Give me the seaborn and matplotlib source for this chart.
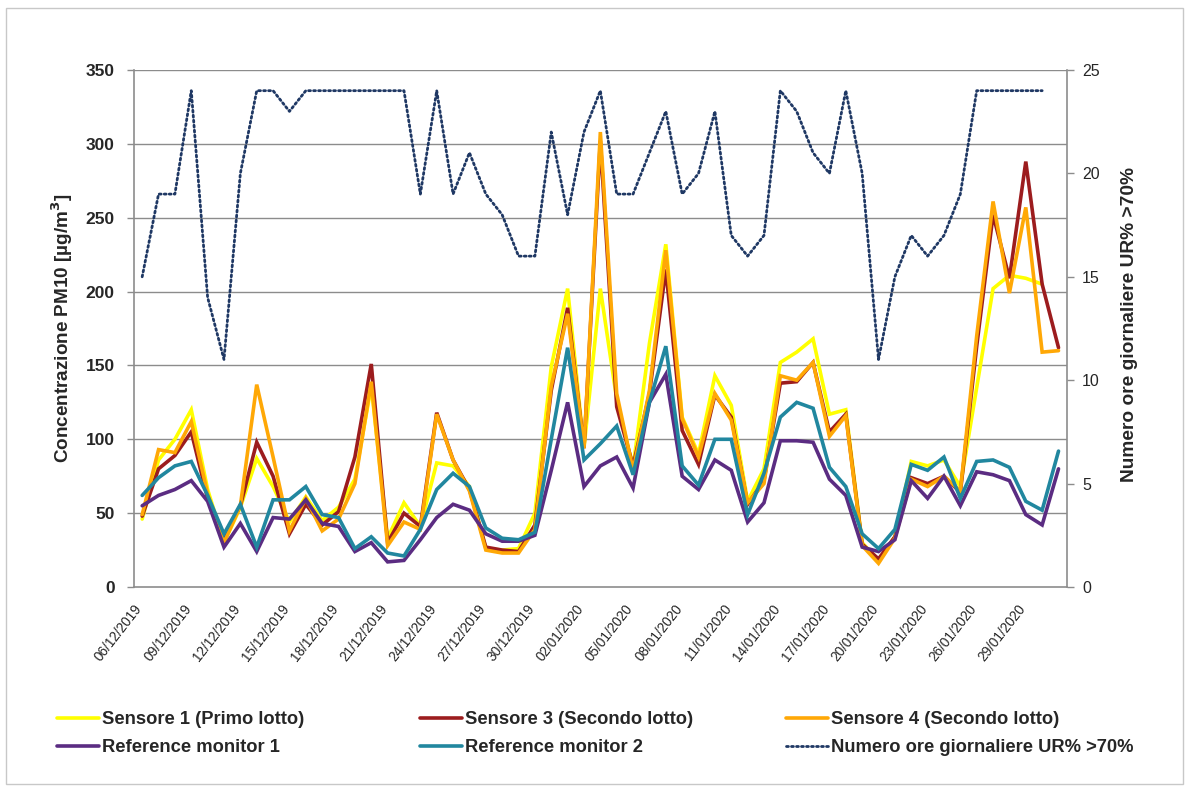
import matplotlib
matplotlib.use("Agg")
import matplotlib.pyplot as plt
from matplotlib.patches import Rectangle
import numpy as np
import pandas as pd
import seaborn as sns

# Daily categories: 06/12/2019 .. 31/01/2020
start_day = "2019-12-06"
n_days = 57
dates = pd.date_range(start_day, periods=n_days, freq="D")

# PM10 daily concentrations [µg/m3]
sensore_1 = [46, 86, 100, 120, 66, 30, 54, 87, 68, 44, 61, 45, 54, 73, 136, 33, 57, 41, 84, 82,
             68, 26, 25, 26, 50, 149, 202, 94, 202, 127, 81, 165, 232, 115, 90, 143, 123, 58, 80, 152,
             159, 168, 117, 120, 30, 18, 34, 85, 82, 86, 68, 135, 202, 211, 209, 205, np.nan]
sensore_3 = [48, 80, 89, 105, 60, 33, 55, 98, 75, 36, 56, 42, 51, 88, 151, 30, 50, 41, 118, 86,
             66, 27, 25, 24, 42, 133, 189, 94, 302, 122, 82, 131, 215, 106, 83, 130, 115, 56, 72, 138,
             139, 152, 105, 117, 29, 19, 34, 74, 70, 75, 64, 163, 252, 209, 288, 205, 162]
sensore_4 = [49, 93, 91, 112, 63, 30, 55, 137, 88, 38, 60, 38, 46, 70, 139, 28, 44, 39, 117, 86,
             65, 25, 23, 23, 39, 136, 185, 94, 308, 131, 79, 133, 228, 114, 88, 131, 113, 57, 70, 143,
             140, 152, 102, 116, 28, 16, 33, 73, 68, 75, 65, 170, 261, 199, 257, 159, 160]
reference_1 = [55, 62, 66, 72, 58, 27, 43, 24, 47, 46, 59, 43, 41, 24, 30, 17, 18, 32, 47, 56,
               52, 36, 31, 31, 35, 79, 125, 68, 82, 88, 67, 125, 144, 75, 66, 86, 79, 44, 57, 99,
               99, 98, 73, 62, 27, 24, 32, 72, 60, 75, 55, 78, 76, 72, 49, 42, 80]
reference_2 = [62, 74, 82, 85, 62, 36, 56, 27, 59, 59, 68, 49, 47, 26, 34, 23, 21, 39, 66, 77,
               68, 40, 33, 32, 37, 100, 162, 86, 97, 109, 76, 125, 163, 82, 69, 100, 100, 49, 77, 115,
               125, 121, 81, 68, 36, 26, 39, 83, 79, 88, 60, 85, 86, 81, 58, 52, 92]
# Daily number of hours with relative humidity above 70%
ore_ur70 = [15, 19, 19, 24, 14, 11, 20, 24, 24, 23, 24, 24, 24, 24, 24, 24, 24, 19, 24, 19,
            21, 19, 18, 16, 16, 22, 18, 22, 24, 19, 19, 21, 23, 19, 20, 23, 17, 16, 17, 24,
            23, 21, 20, 24, 20, 11, 15, 17, 16, 17, 19, 24, 24, 24, 24, 24, np.nan]

series_names = ["Sensore 1 (Primo lotto)", "Sensore 3 (Secondo lotto)", "Sensore 4 (Secondo lotto)",
                "Reference monitor 1", "Reference monitor 2"]
humidity_name = "Numero ore giornaliere UR% >70%"
left_ticks = [0, 50, 100, 150, 200, 250, 300, 350]
right_ticks = [0, 5, 10, 15, 20, 25]

colors = ["#FFFF00", "#9C1C1E", "#FFA806", "#5B2C82", "#21879F"]
hum_color = "#1F3864"

sns.set_style("white")
plt.rcParams["font.family"] = ["Liberation Sans", "DejaVu Sans"]

W, H = 1190, 791
fig = plt.figure(figsize=(W / 100, H / 100), dpi=100)
ax = fig.add_axes([134 / W, 1 - 587 / H, (1066.7 - 134) / W, (587 - 70) / H])

grid_col = "#8C8C8C"
for v in left_ticks[1:]:
    ax.axhline(v, color=grid_col, lw=1.0, zorder=0)

all_series = [sensore_1, sensore_3, sensore_4, reference_1, reference_2]
handles = []
for name, vals, col in zip(series_names, all_series, colors):
    df = pd.DataFrame({"data": dates, "valore": vals}).dropna()
    sns.lineplot(data=df, x="data", y="valore", color=col, lw=2.6, ax=ax,
                 legend=False, solid_joinstyle="miter")
    handles.append(ax.lines[-1])

ax.set_ylim(0, 350)
half = pd.Timedelta(hours=12)
ax.set_xlim(dates[0] - half, dates[-1] + half)
ax.set_yticks(left_ticks)
ax.set_yticklabels([str(v) for v in left_ticks], fontsize=12.5, fontweight="bold")
tick_pos = [dates[i] - half for i in range(0, n_days, 3)]
ax.set_xticks(tick_pos)
ax.set_xticklabels([dates[i].strftime("%d/%m/%Y") for i in range(0, n_days, 3)],
                   rotation=52, ha="right", rotation_mode="anchor", fontsize=9.8)
ax.tick_params(axis="x", direction="out", length=5, width=1, color=grid_col, pad=6)
ax.tick_params(axis="y", direction="out", length=5, width=1, color=grid_col, pad=9)
ax.set_xlabel("")
ax.set_ylabel("")
for side in ["left", "bottom"]:
    ax.spines[side].set_color(grid_col)
    ax.spines[side].set_linewidth(1.2)
ax.spines["top"].set_visible(False)
ax.spines["right"].set_visible(False)

ax2 = ax.twinx()
hdf = pd.DataFrame({"data": dates, "ore": ore_ur70}).dropna()
sns.lineplot(data=hdf, x="data", y="ore", color=hum_color, lw=2.0, ax=ax2, legend=False)
hline = ax2.lines[-1]
hline.set_linestyle((0, (0.7, 1.1)))
hline.set_dash_capstyle("round")
ax2.set_ylim(0, 25)
ax2.set_yticks(right_ticks)
ax2.set_yticklabels([str(v) for v in right_ticks], fontsize=11.5)
ax2.tick_params(axis="y", direction="out", length=5, width=1, color=grid_col, pad=6)
ax2.set_ylabel("")
ax2.set_xlabel("")
for side in ["left", "bottom", "top"]:
    ax2.spines[side].set_visible(False)
ax2.spines["right"].set_color(grid_col)
ax2.spines["right"].set_linewidth(1.2)
ax2.set_xlim(dates[0] - half, dates[-1] + half)

fig.text(62 / W, 1 - 328 / H, "Concentrazione PM10 [µg/m$^\\mathbf{3}$]", rotation=90,
         ha="center", va="center", fontsize=13.6, fontweight="bold")
fig.text(1130 / W, 1 - 324 / H, humidity_name, rotation=90,
         ha="center", va="center", fontsize=13.8, fontweight="bold")

# legend: three columns of two entries each
columns = [
    ([handles[0], handles[3]], [series_names[0], series_names[3]], 57),
    ([handles[1], handles[4]], [series_names[1], series_names[4]], 420),
    ([handles[2], hline], [series_names[2], humidity_name], 786),
]
for hs, ls, x0 in columns:
    lg = fig.legend(hs, ls, loc="upper left", bbox_to_anchor=(x0 / W, 1 - 711 / H),
                    frameon=False, handlelength=2.3, handletextpad=0.15, borderaxespad=0,
                    borderpad=0, labelspacing=0.62, prop={"size": 13.2, "weight": "bold"})

fig.patches.append(Rectangle((6 / W, 7 / H), 1 - 13 / W, 1 - 15 / H, transform=fig.transFigure,
                             fill=False, edgecolor="#C8C8C8", lw=1.0))

fig.savefig("out.png", dpi=100, facecolor="white")
